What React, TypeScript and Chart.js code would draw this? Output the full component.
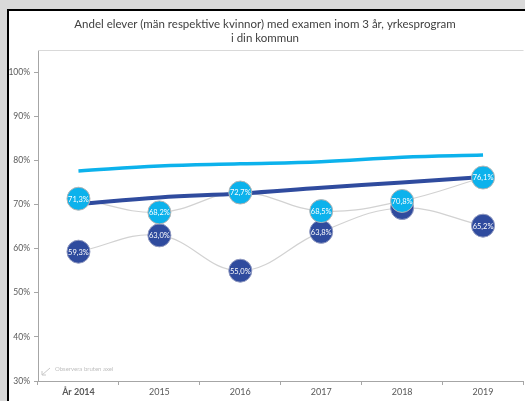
import React, { useEffect, useRef } from 'react';
import { Chart, registerables } from 'chart.js';

Chart.register(...registerables);

const titleLines = [
  'Andel elever (män respektive kvinnor) med examen inom 3 år, yrkesprogram',
  'i din kommun',
];
const categories = ['År 2014', '2015', '2016', '2017', '2018', '2019'];
const womenValues = [71.3, 68.2, 72.7, 68.5, 70.8, 76.1];
const menValues = [59.3, 63.0, 55.0, 63.8, 69.2, 65.2];
const womenTrend = [77.6, 78.7, 79.2, 79.7, 80.7, 81.2];
const menTrend = [70.1, 71.6, 72.5, 73.8, 75.0, 76.2];
const yTickValues = [30, 40, 50, 60, 70, 80, 90, 100];
const noteText = 'Observera bruten axel';

const FONT = 'Lato';
const LIGHT = '#0cb2ec';
const DARK = '#2f4b9e';

const fmt = (v: number) => v.toFixed(1).replace('.', ',') + '%';

const labelPlugin = {
  id: 'pointLabels',
  afterDatasetDraw(chart: any, args: any) {
    const ds = chart.data.datasets[args.index];
    if (!ds.showLabels) return;
    const ctx = chart.ctx;
    const topMeta = args.index > 0 ? chart.getDatasetMeta(0) : null;
    ctx.save();
    ctx.font = `7.5px ${FONT}`;
    ctx.fillStyle = '#ffffff';
    ctx.textAlign = 'center';
    ctx.textBaseline = 'middle';
    args.meta.data.forEach((pt: any, i: number) => {
      if (topMeta) {
        const other = topMeta.data[i];
        if (other && Math.hypot(other.x - pt.x, other.y - pt.y) < 12) return;
      }
      ctx.fillText(fmt(ds.data[i]), pt.x, pt.y + 0.5);
    });
    ctx.restore();
  },
};

const decorPlugin = {
  id: 'decor',
  beforeDatasetsDraw(chart: any) {
    const { ctx, chartArea: a } = chart;
    ctx.save();
    ctx.strokeStyle = '#d9d9d9';
    ctx.lineWidth = 1;
    ctx.beginPath();
    ctx.moveTo(a.left, a.top + 0.5);
    ctx.lineTo(a.right, a.top + 0.5);
    ctx.stroke();
    // broken axis note
    const x0 = a.left + 12;
    const y0 = a.bottom - 13;
    ctx.strokeStyle = '#c8c8c8';
    ctx.beginPath();
    ctx.moveTo(x0, y0);
    ctx.lineTo(x0 - 8, y0 + 7);
    ctx.moveTo(x0 - 8, y0 + 7);
    ctx.lineTo(x0 - 8, y0 + 3);
    ctx.moveTo(x0 - 8, y0 + 7);
    ctx.lineTo(x0 - 4, y0 + 7);
    ctx.stroke();
    ctx.fillStyle = '#bfbfbf';
    ctx.font = `6px ${FONT}`;
    ctx.textAlign = 'left';
    ctx.textBaseline = 'middle';
    ctx.fillText(noteText, x0 + 5, y0 + 1);
    ctx.restore();
  },
};

export default function App() {
  const ref = useRef<HTMLCanvasElement>(null);

  useEffect(() => {
    if (!ref.current) return;
    const chart = new Chart(ref.current, {
      type: 'line',
      data: {
        labels: categories,
        datasets: [
          {
            label: 'Kvinnor',
            data: womenValues,
            showLine: false,
            pointRadius: 11.5,
            pointBackgroundColor: LIGHT,
            pointBorderColor: '#b5b5b5',
            pointBorderWidth: 1,
            showLabels: true,
          } as any,
          {
            label: 'Män',
            data: menValues,
            showLine: false,
            pointRadius: 11.5,
            pointBackgroundColor: DARK,
            pointBorderColor: '#8f98bf',
            pointBorderWidth: 1,
            showLabels: true,
          } as any,
          {
            label: 'Män trend',
            data: menTrend,
            borderColor: DARK,
            borderWidth: 4,
            pointRadius: 0,
            tension: 0.4,
          },
          {
            label: 'Kvinnor trend',
            data: womenTrend,
            borderColor: LIGHT,
            borderWidth: 3.5,
            pointRadius: 0,
            tension: 0.4,
          },
          {
            label: 'Kvinnor linje',
            data: womenValues,
            borderColor: '#d2d2d2',
            borderWidth: 1.2,
            pointRadius: 0,
            tension: 0.4,
          },
          {
            label: 'Män linje',
            data: menValues,
            borderColor: '#d2d2d2',
            borderWidth: 1.2,
            pointRadius: 0,
            tension: 0.4,
          },
        ],
      },
      options: {
        responsive: false,
        animation: false,
        events: [],
        layout: { padding: { top: 0, left: 0, right: 6, bottom: 0 } },
        plugins: {
          legend: { display: false },
          tooltip: { enabled: false },
          title: {
            display: true,
            text: titleLines,
            color: '#404040',
            font: { family: FONT, size: 11.5, weight: 'normal', lineHeight: 1.25 },
            padding: { top: 17, bottom: 4.25 },
          },
        },
        scales: {
          x: {
            offset: true,
            grid: { offset: true, drawOnChartArea: false, tickLength: 4, color: '#a6a6a6' },
            border: { color: '#a6a6a6' },
            ticks: {
              color: '#595959',
              padding: 2,
              maxRotation: 0,
              autoSkip: false,
              font: (c: any) => ({ family: FONT, size: 9, weight: c.index === 0 ? 'bold' : 'normal' }),
            },
            afterFit: (s: any) => { s.height = 20; },
          },
          y: {
            min: 30,
            max: 105,
            afterBuildTicks: (s: any) => { s.ticks = yTickValues.map((v) => ({ value: v })); },
            grid: { drawOnChartArea: false, tickLength: 4, color: '#a6a6a6' },
            border: { color: '#a6a6a6' },
            ticks: {
              color: '#595959',
              padding: 4,
              font: { family: FONT, size: 8.5 },
              callback: (v: any) => v + '%',
            },
            afterFit: (s: any) => { s.width = 38; },
          },
        },
      },
      plugins: [labelPlugin, decorPlugin],
    });
    return () => chart.destroy();
  }, []);

  return (
    <div style={{ position: 'fixed', left: 0, top: 0, width: 525, height: 401, overflow: 'hidden', background: '#d9d9d9' }}>
      <div style={{ position: 'absolute', left: 7, top: 9, width: 600, height: 500, background: '#ffffff', borderTop: '2px solid #000', borderLeft: '2px solid #000' }} />
      <canvas ref={ref} width={536} height={401} style={{ position: 'absolute', left: 0, top: 0, width: 536, height: 401 }} />
    </div>
  );
}
